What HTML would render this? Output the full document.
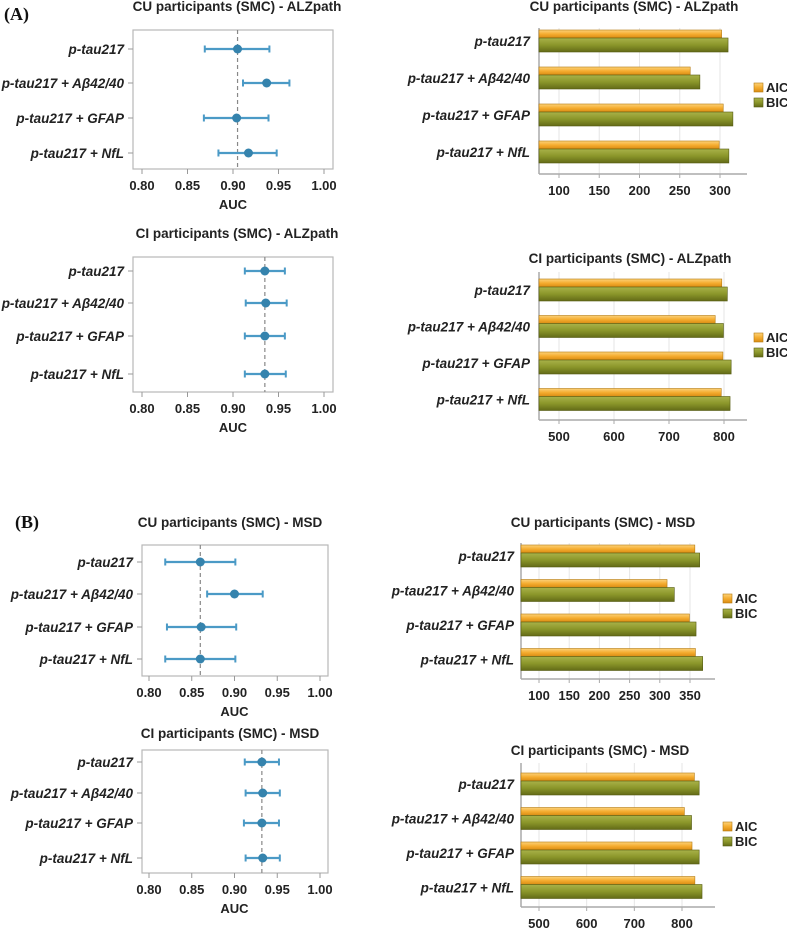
<!DOCTYPE html>
<html><head><meta charset="utf-8"><style>
html,body{margin:0;padding:0;background:#fff;}
svg{display:block;font-family:"Liberation Sans",Arial,sans-serif;}
.t{font-weight:bold;font-size:13.5px;fill:#222;}
.c{font-weight:bold;font-style:italic;font-size:13.5px;fill:#222;}
.k{font-weight:bold;font-size:13px;fill:#222;}
</style></head><body>
<svg id="fig" width="787" height="943" viewBox="0 0 787 943">
<defs>
<linearGradient id="gA" x1="0" y1="0" x2="0" y2="1"><stop offset="0" stop-color="#fcd27a"/><stop offset="0.5" stop-color="#f5ad30"/><stop offset="1" stop-color="#d98b12"/></linearGradient>
<linearGradient id="gB" x1="0" y1="0" x2="0" y2="1"><stop offset="0" stop-color="#a9b24a"/><stop offset="0.5" stop-color="#8b962a"/><stop offset="1" stop-color="#636b17"/></linearGradient>
</defs>
<text x="4" y="20" font-family="Liberation Serif,serif" font-weight="bold" font-size="18" fill="#111">(A)</text>
<text x="15" y="528" font-family="Liberation Serif,serif" font-weight="bold" font-size="18" fill="#111">(B)</text>
</svg>
<script>
const categories = ["p-tau217","p-tau217 + Aβ42/40","p-tau217 + GFAP","p-tau217 + NfL"];
const aucTicks = [0.80,0.85,0.90,0.95,1.00];
// forest data: AUC point, lower, upper
const cuAlzAuc = [0.905,0.937,0.904,0.917];
const cuAlzLo  = [0.869,0.911,0.868,0.884];
const cuAlzHi  = [0.940,0.962,0.939,0.948];
const ciAlzAuc = [0.935,0.936,0.935,0.935];
const ciAlzLo  = [0.913,0.914,0.913,0.913];
const ciAlzHi  = [0.957,0.959,0.957,0.958];
const cuMsdAuc = [0.860,0.900,0.861,0.860];
const cuMsdLo  = [0.819,0.868,0.821,0.819];
const cuMsdHi  = [0.901,0.933,0.902,0.901];
const ciMsdAuc = [0.932,0.933,0.932,0.933];
const ciMsdLo  = [0.912,0.913,0.911,0.913];
const ciMsdHi  = [0.952,0.953,0.952,0.953];
// bar data: AIC, BIC
const cuAlzAic = [302,263,304,299];
const cuAlzBic = [310,275,316,311];
const cuAlzTicks = [100,150,200,250,300];
const ciAlzAic = [796,784,798,795];
const ciAlzBic = [806,799,813,811];
const ciAlzTicks = [500,600,700,800];
const cuMsdAic = [358,312,349,359];
const cuMsdBic = [366,324,360,371];
const cuMsdTicks = [100,150,200,250,300,350];
const ciMsdAic = [826,805,821,827];
const ciMsdBic = [836,820,836,842];
const ciMsdTicks = [500,600,700,800];

const NS="http://www.w3.org/2000/svg";
const svg=document.getElementById('fig');
function el(tag,attrs,parent){const e=document.createElementNS(NS,tag);for(const k in attrs)e.setAttribute(k,attrs[k]);(parent||svg).appendChild(e);return e;}
function txt(x,y,s,cls,anchor,parent){const t=el('text',{x:x,y:y,class:cls,'text-anchor':anchor||'start'},parent);t.textContent=s;return t;}

function forest(g,name,title,auc,lo,hi,ref){
  const G=el('g',{});
  
  
  const sx=v=>g.x0+(v-0.8)/(0.2)*(g.x1-g.x0);
  const tt=txt(g.tx,g.ty,title,'t','middle',G);
  
  
  el('rect',{x:g.bl,y:g.bt,width:g.br-g.bl,height:g.bb-g.bt,fill:'none',stroke:'#b8b8b8','stroke-width':1.2},G);
  el('line',{x1:sx(ref),x2:sx(ref),y1:g.bt,y2:g.bb,stroke:'#888','stroke-dasharray':'4,3','stroke-width':1.2},G);
  aucTicks.forEach(v=>{
    el('line',{x1:sx(v),x2:sx(v),y1:g.bb,y2:g.bb+5,stroke:'#999'},G);
    const t=txt(sx(v),g.bb+21,v.toFixed(2),'k','middle',G);
    
    
  });
  const ax=txt((g.x0+g.x1)/2,g.bb+40,'AUC','k','middle',G);
  
  
  categories.forEach((c,i)=>{
    const y=g.rows[i];
    el('line',{x1:g.bl-5,x2:g.bl,y1:y,y2:y,stroke:'#999'},G);
    const l=txt(g.bl-9,y+5,c,'c','end',G);
    
    
    const ci=el('line',{x1:sx(lo[i]),x2:sx(hi[i]),y1:y,y2:y,stroke:'#4b9ac6','stroke-width':2.2},G);
    
    
    [lo[i],hi[i]].forEach(v=>el('line',{x1:sx(v),x2:sx(v),y1:y-3.5,y2:y+3.5,stroke:'#4b9ac6','stroke-width':2},G));
    const p=el('circle',{cx:sx(auc[i]),cy:y,r:4.5,fill:'#3583ad'},G);
    
    
  });
}

function bars(g,name,title,aic,bic,ticks){
  const G=el('g',{});
  
  
  const sx=v=>g.ax+(v-g.t0)/(g.t1-g.t0)*(g.px1-g.px0)+ (g.px0-g.ax);
  const tt=txt(g.tx,g.ty,title,'t','middle',G);
  
  
  ticks.forEach(v=>{
    el('line',{x1:sx(v),x2:sx(v),y1:g.top,y2:g.bot,stroke:'#e6e6e6'},G);
    el('line',{x1:sx(v),x2:sx(v),y1:g.bot,y2:g.bot+4,stroke:'#aaa'},G);
    const t=txt(sx(v),g.bot+21,String(v),'k','middle',G);
    
    
  });
  el('line',{x1:g.ax,x2:g.ax,y1:g.top,y2:g.bot,stroke:'#aaa','stroke-width':1.5},G);
  el('line',{x1:g.ax,x2:g.ar,y1:g.bot,y2:g.bot,stroke:'#aaa','stroke-width':1.5},G);
  categories.forEach((c,i)=>{
    const y=g.top+g.pad+i*g.rowH;
    const a=el('rect',{x:g.ax,y:y,width:sx(aic[i])-g.ax,height:8,fill:'url(#gA)',stroke:'#b57a10','stroke-width':0.6},G);
    
    
    const b=el('rect',{x:g.ax,y:y+8,width:sx(bic[i])-g.ax,height:14,fill:'url(#gB)',stroke:'#545a12','stroke-width':0.6},G);
    
    
    const l=txt(g.lx,y+16,c,'c','end',G);
    
    
  });
  const la=el('rect',{x:g.gx,y:g.gy-9,width:9,height:9,fill:'url(#gA)',stroke:'#b57a10','stroke-width':0.6},G);
  
  
  const ta=txt(g.gx+12,g.gy,'AIC','k','start',G);
  
  
  const lb=el('rect',{x:g.gx,y:g.gy+6,width:9,height:9,fill:'url(#gB)',stroke:'#545a12','stroke-width':0.6},G);
  
  
  const tb=txt(g.gx+12,g.gy+15,'BIC','k','start',G);
  
  
}

forest({x0:142,x1:324,bl:133,br:333,bt:30,bb:169,tx:237,ty:11,rows:[49,83,118,153]},'forest-cu-alzpath','CU participants (SMC) - ALZpath',cuAlzAuc,cuAlzLo,cuAlzHi,0.905);
forest({x0:142,x1:324,bl:133,br:333,bt:257,bb:392,tx:237,ty:238,rows:[271,303,336,374]},'forest-ci-alzpath','CI participants (SMC) - ALZpath',ciAlzAuc,ciAlzLo,ciAlzHi,0.935);
forest({x0:149,x1:320,bl:142,br:328,bt:545,bb:676,tx:230,ty:527,rows:[562,594,627,659]},'forest-cu-msd','CU participants (SMC) - MSD',cuMsdAuc,cuMsdLo,cuMsdHi,0.86);
forest({x0:149,x1:320,bl:142,br:328,bt:750,bb:873,tx:230,ty:738,rows:[762,793,823,858]},'forest-ci-msd','CI participants (SMC) - MSD',ciMsdAuc,ciMsdLo,ciMsdHi,0.932);

bars({ax:539,ar:747,t0:100,t1:300,px0:559,px1:720,top:28,bot:174,pad:2,rowH:37,lx:530,tx:634,ty:11,gx:754,gy:92},'bars-cu-alzpath','CU participants (SMC) - ALZpath',cuAlzAic,cuAlzBic,cuAlzTicks);
bars({ax:539,ar:747,t0:500,t1:800,px0:559,px1:724,top:272,bot:420,pad:7,rowH:36.5,lx:530,tx:630,ty:263,gx:754,gy:342},'bars-ci-alzpath','CI participants (SMC) - ALZpath',ciAlzAic,ciAlzBic,ciAlzTicks);
bars({ax:521,ar:715,t0:100,t1:350,px0:539,px1:690,top:543,bot:679,pad:2,rowH:34.5,lx:514,tx:603,ty:527,gx:723,gy:603},'bars-cu-msd','CU participants (SMC) - MSD',cuMsdAic,cuMsdBic,cuMsdTicks);
bars({ax:521,ar:715,t0:500,t1:800,px0:539,px1:682,top:763,bot:907,pad:10,rowH:34.5,lx:514,tx:600,ty:755,gx:723,gy:831},'bars-ci-msd','CI participants (SMC) - MSD',ciMsdAic,ciMsdBic,ciMsdTicks);
</script>
</body></html>
